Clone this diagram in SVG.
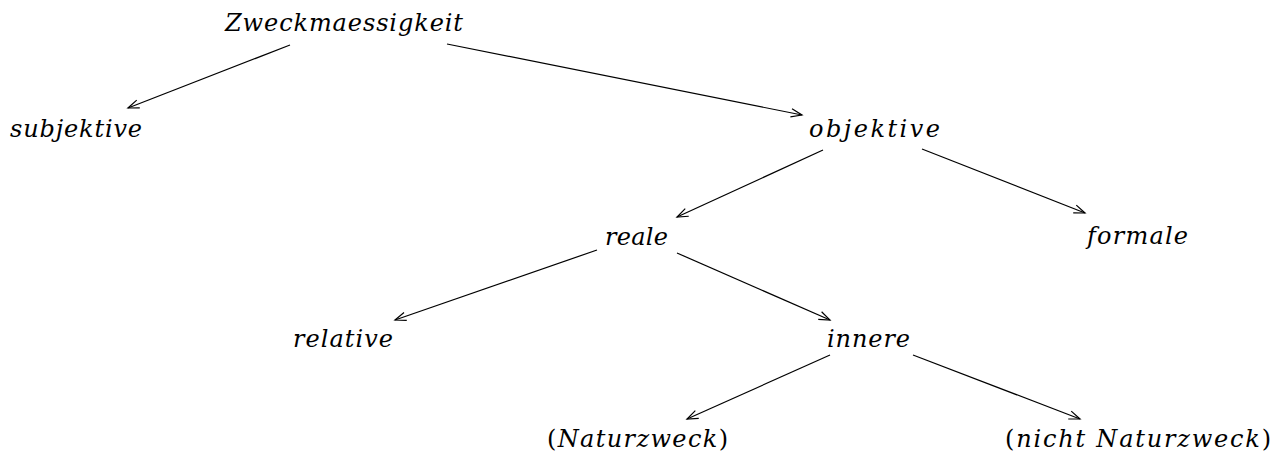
<svg xmlns="http://www.w3.org/2000/svg" width="1280" height="459" viewBox="0 0 1280 459">
<style>
.t{font-family:"DejaVu Serif","Liberation Serif",serif;font-style:italic;font-size:24px;fill:#000}
.u{font-style:normal}
.c line{stroke:#000;stroke-width:1.2;fill:none;marker-end:url(#ah)}
</style>
<defs>
<marker id="ah" markerUnits="userSpaceOnUse" markerWidth="14" markerHeight="12" refX="0" refY="0" viewBox="-12 -6 14 12" orient="auto">
<path d="M-11,-4.2 L0,0 L-11,4.2" fill="none" stroke="#000" stroke-width="1.2"/>
</marker>
</defs>
<rect width="1280" height="459" fill="#fff"/>
<g id="n-zweck"><text class="t" x="225" y="31" textLength="238" lengthAdjust="spacing">Zweckmaessigkeit</text></g>
<g id="n-subjektive"><text class="t" x="10" y="137" textLength="132" lengthAdjust="spacing">subjektive</text></g>
<g id="n-objektive"><text class="t" x="809" y="137" textLength="131" lengthAdjust="spacing">objektive</text></g>
<g id="n-reale"><text class="t" x="605" y="245" textLength="63" lengthAdjust="spacing">reale</text></g>
<g id="n-formale"><text class="t" x="1087" y="244" textLength="101" lengthAdjust="spacing">formale</text></g>
<g id="n-relative"><text class="t" x="293" y="347" textLength="100" lengthAdjust="spacing">relative</text></g>
<g id="n-innere"><text class="t" x="827" y="347" textLength="83" lengthAdjust="spacing">innere</text></g>
<g id="n-naturzweck"><text class="t" x="547" y="447" textLength="181" lengthAdjust="spacing"><tspan class="u">(</tspan>Naturzweck<tspan class="u">)</tspan></text></g>
<g id="n-nicht"><text class="t" x="1005" y="447" textLength="266" lengthAdjust="spacing"><tspan class="u">(</tspan>nicht Naturzweck<tspan class="u">)</tspan></text></g>
<g id="connectors" class="c">
<line x1="290" y1="45" x2="128" y2="108"/>
<line x1="447" y1="44" x2="802" y2="115"/>
<line x1="823" y1="150" x2="677" y2="217"/>
<line x1="922" y1="149" x2="1085" y2="213"/>
<line x1="597" y1="250" x2="395" y2="320"/>
<line x1="677" y1="253" x2="830" y2="320"/>
<line x1="830" y1="355" x2="687" y2="419"/>
<line x1="913" y1="355" x2="1080" y2="419"/>
</g>
</svg>
